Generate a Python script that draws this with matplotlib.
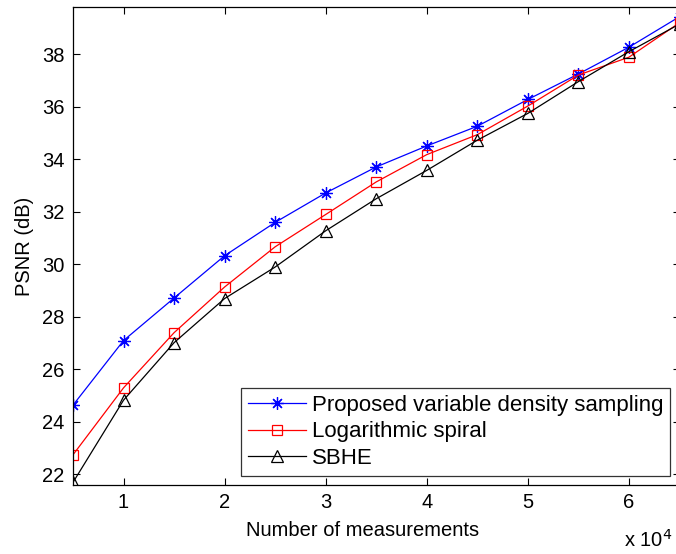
import numpy as np
import matplotlib
matplotlib.use('Agg')
import matplotlib.pyplot as plt

plt.rcParams['font.family'] = ['Liberation Sans', 'DejaVu Sans']

# Número de medidas (x 10^4)
measurements = [0.5, 1.0, 1.5, 2.0, 2.5, 3.0, 3.5, 4.0, 4.5, 5.0, 5.5, 6.0, 6.5]

psnr_proposed = [24.64, 27.10, 28.72, 30.33, 31.60, 32.72, 33.71, 34.51,
                 35.26, 36.28, 37.25, 38.27, 39.43]
psnr_log_spiral = [22.75, 25.30, 27.40, 29.14, 30.67, 31.90, 33.14, 34.18,
                   34.94, 36.03, 37.21, 37.89, 39.20]
psnr_sbhe = [21.70, 24.83, 27.02, 28.70, 29.90, 31.28, 32.50, 33.58,
             34.73, 35.75, 36.96, 38.10, 39.15]

labels = ['Proposed variable density sampling', 'Logarithmic spiral', 'SBHE']
x_ticks = [1, 2, 3, 4, 5, 6]
y_ticks = [22, 24, 26, 28, 30, 32, 34, 36, 38]

fs = 14.5

fig = plt.figure(figsize=(6.76, 5.54), dpi=100)
# el eje derecho queda recortado en la imagen original
ax = fig.add_axes([73 / 676, 1 - 485 / 554, 606.5 / 676, 478 / 554])

ax.plot(measurements, psnr_proposed, '-', color='b', marker=(8, 2, 0), markersize=9,
        markeredgewidth=0.9, linewidth=0.9, label=labels[0])
ax.plot(measurements, psnr_log_spiral, '-', color='r', marker='s', markersize=7.5,
        markerfacecolor='none', markeredgewidth=0.9, linewidth=0.9, label=labels[1])
ax.plot(measurements, psnr_sbhe, '-', color='k', marker='^', markersize=9,
        markerfacecolor='none', markeredgewidth=0.9, linewidth=0.9, label=labels[2])

ax.set_xlim(0.5, 6.5)
ax.set_ylim(21.6, 39.8)
ax.set_xticks(x_ticks)
ax.set_yticks(y_ticks)
ax.tick_params(direction='in', length=5, width=0.8, top=True, right=True,
               labelsize=fs, pad=6)
for s in ax.spines.values():
    s.set_linewidth(0.9)

ax.set_xlabel('Number of measurements', fontsize=fs)
ax.xaxis.set_label_coords((363 - 73) / 606.5, -0.075)
ax.set_ylabel('PSNR (dB)', fontsize=fs, labelpad=6)
ax.text((624 - 73) / 606.5, -0.115, r'x 10$^4$', transform=ax.transAxes,
        fontsize=fs, ha='left', va='center')

leg = ax.legend(loc='lower right', bbox_to_anchor=(670 / 676, 1 - 475.7 / 554),
                bbox_transform=fig.transFigure, fontsize=16, frameon=True,
                fancybox=False, edgecolor='k', borderpad=0.3, labelspacing=0.25,
                handlelength=2.6, handletextpad=0.27, borderaxespad=0)
leg.get_frame().set_linewidth(0.9)

fig.savefig('out.png', dpi=100)
